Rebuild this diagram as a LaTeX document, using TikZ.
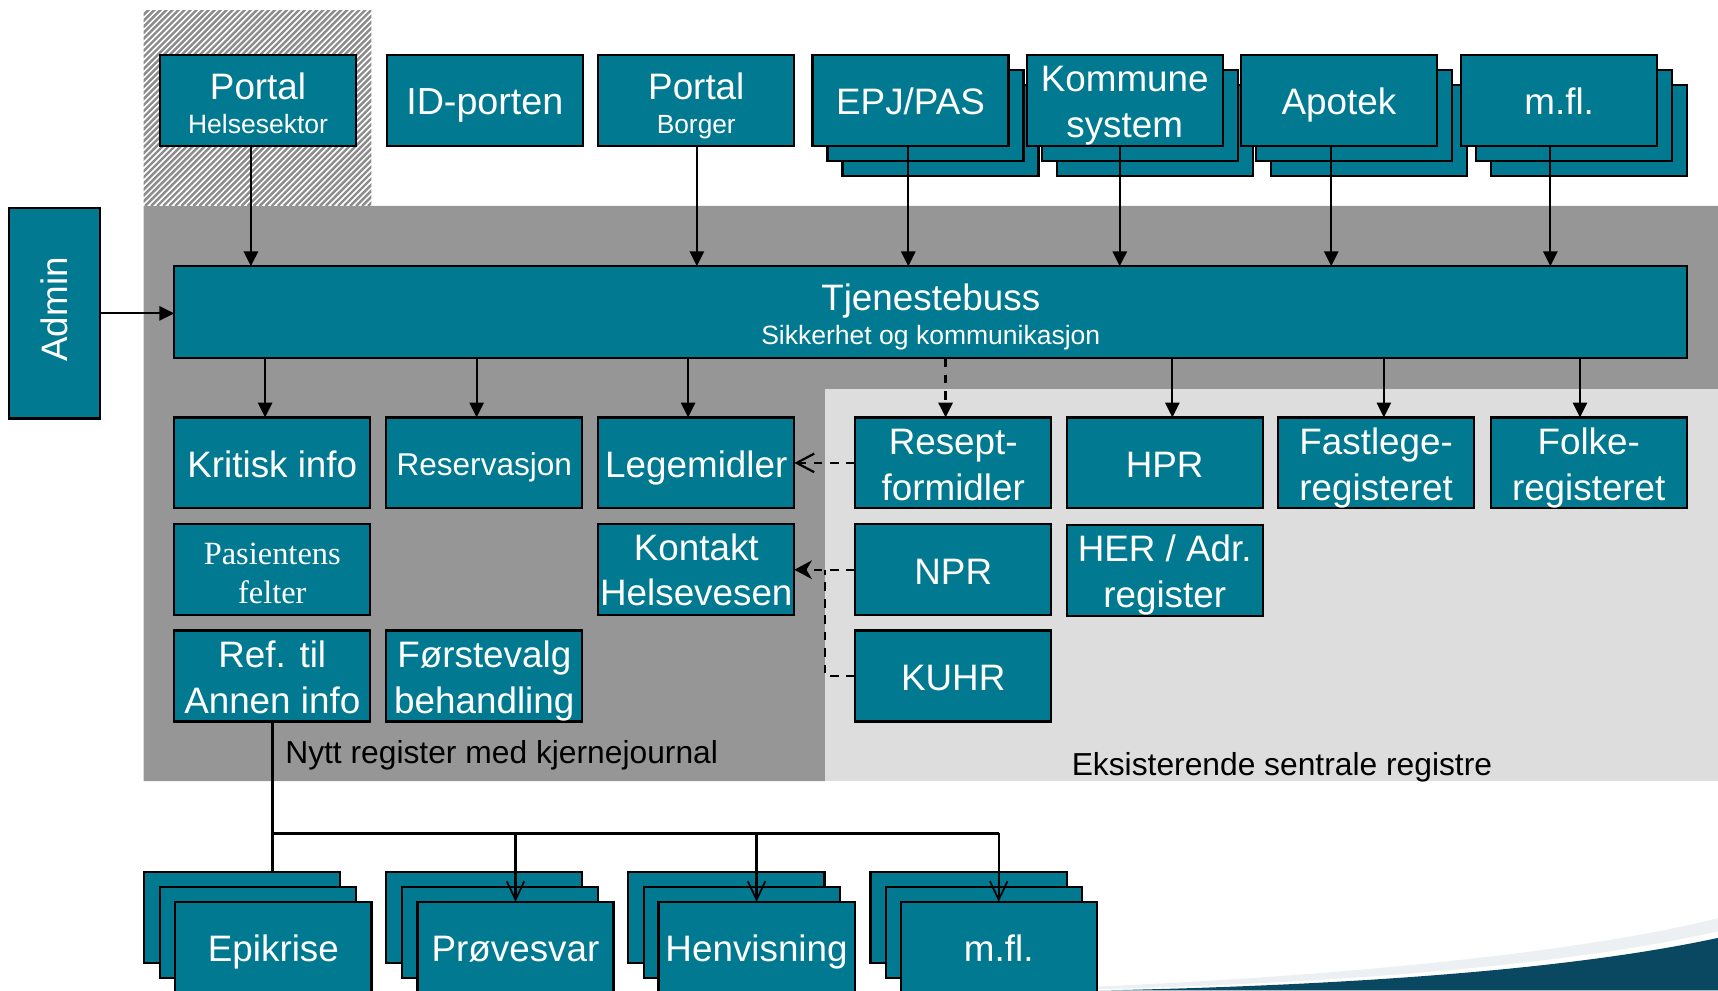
\documentclass[tikz,border=0pt]{standalone}
\usepackage{fontspec}
\setmainfont{Liberation Sans}
\newfontfamily\serifx{Liberation Serif}
\usetikzlibrary{arrows.meta,calc}
\definecolor{boxteal}{RGB}{0,121,145}
\definecolor{darkgr}{RGB}{150,150,150}
\definecolor{lightgr}{RGB}{221,221,221}
\definecolor{swooshc}{RGB}{10,72,98}
\definecolor{hatchc}{RGB}{140,140,140}
\definecolor{glowc}{RGB}{236,240,242}
\newcommand\tstrut{\rule[-0.212em]{0pt}{1.117em}}
\newcommand\tstrutA{\rule[-0.212em]{0pt}{\dimexpr1.117em+1.5pt\relax}}
\begin{document}
\begin{tikzpicture}[x=0.5pt,y=-0.5pt,
  box/.style={draw=black,line width=1pt,fill=boxteal,text=white,inner sep=0pt,outer sep=0pt,
    minimum width=89.5pt,minimum height=41.5pt,align=center,font=\fontsize{16.8}{20.8}\selectfont,
    execute at begin node=\tstrutA,execute at end node=\tstrut},
  arr/.style={line width=1pt,-{Triangle[length=6.8pt,width=6.5pt]}},
  dline/.style={line width=1pt,dash pattern=on 4pt off 3.5pt},
  dtarr/.style={dline,-{Triangle[length=6.8pt,width=6.5pt]}},
  darr/.style={dline,-{Straight Barb[length=8pt,width=8.5pt,line width=1pt]}},
  dsarr/.style={dline,-{Stealth[length=8pt,width=8.5pt,inset=2.5pt]}},
  tline/.style={line width=1.2pt},
  tarr/.style={line width=1pt,-{Straight Barb[length=8.4pt,width=8pt,line width=0.8pt]}},
  lbl/.style={text=black,inner sep=0pt,font=\fontsize{14.5}{17}\selectfont}
]
\useasboundingbox (0,0) rectangle (1568,904);
\clip (0,0) rectangle (1568,904);

% background regions
\fill[darkgr] (131,188) -- (1568,188) -- (1568,355) -- (753,355) -- (753,713) -- (131,713) -- cycle;
\fill[lightgr] (753,355) rectangle (1568,713);

% hatched area
\begin{scope}
  \clip (131,10) rectangle (339,188);
  \fill[white] (131,10) rectangle (339,188);
  \foreach \i in {0,...,76} {
    \draw[hatchc,line width=1.1pt] (\i*5.5-60,188) -- ++(190,-190);
  }
\end{scope}

% swoosh
\fill[glowc] (900,904) .. controls (1150,897) and (1420,875) .. (1568,838) -- (1568,904) -- cycle;
\fill[white] (960,904) .. controls (1190,899) and (1420,884) .. (1568,850) -- (1568,904) -- cycle;
\fill[swooshc] (1004,904) .. controls (1200,900) and (1420,888) .. (1568,856) -- (1568,904) -- cycle;

% top row
\node[box,font=\fontsize{16.8}{15.5}\selectfont] (ph) at (235.5,91.5) {\rule{0pt}{18.3pt}Portal\\\fontsize{12.1}{15.5}\selectfont Helsesektor};
\node[box,font=\fontsize{17.2}{20.8}\selectfont] (idp) at (442.5,91.5) {ID-porten};
\node[box,font=\fontsize{16.8}{15.5}\selectfont] (pb) at (635.5,91.5) {\rule{0pt}{18.3pt}Portal\\\fontsize{12}{15.5}\selectfont Borger};

\node[box] (epjc) at (858.4,118.9) {};
\node[box] (epjb) at (844.7,105.2) {};
\node[box] (epj) at (831,91.5) {EPJ/PAS};

\node[box] (komc) at (1053.9,118.9) {};
\node[box] (komb) at (1040.2,105.2) {};
\node[box] (kom) at (1026.5,91.5) {\tstrutA Kommune\\system};

\node[box] (apoc) at (1249.4,118.9) {};
\node[box] (apob) at (1235.7,105.2) {};
\node[box] (apo) at (1222,91.5) {Apotek};

\node[box] (mflc) at (1450.4,118.9) {};
\node[box] (mflb) at (1436.7,105.2) {};
\node[box] (mfl) at (1423,91.5) {m.fl.};

% admin and bus
\node[box,minimum width=41.5pt,minimum height=96pt,execute at begin node={},execute at end node={}] (ad) at (49.5,286) {\rotatebox{90}{Admin}};
\node[box,minimum width=690.5pt,minimum height=42pt,execute at begin node=\tstrut,font=\fontsize{16.8}{15.4}\selectfont] (tb) at (849.5,285)
  {\rule{0pt}{17.2pt}Tjenestebuss\\\fontsize{12.1}{15.4}\selectfont Sikkerhet og kommunikasjon};

% row 1
\node[box] (ki) at (248.5,422.5) {Kritisk info};
\node[box,font=\fontsize{14.4}{17}\selectfont] (res) at (442,422.5) {Reservasjon};
\node[box] (leg) at (635.5,422.5) {Legemidler};
\node[box] (rf) at (870,422.5) {\tstrutA Resept-\\formidler};
\node[box] (hpr) at (1063,422.5) {HPR};
\node[box] (fl) at (1256,422.5) {\tstrutA Fastlege-\\registeret};
\node[box] (fo) at (1450,422.5) {\tstrutA Folke-\\registeret};

% row 2
\node[box,font=\serifx\fontsize{14.8}{17.8}\selectfont] (pf) at (248.5,520) {\rule{0pt}{15.8pt}Pasientens\\felter};
\node[box] (kh) at (635.5,520) {\rule{0pt}{15.8pt}Kontakt\\Helsevesen};
\node[box] (npr) at (870,520) {NPR};
\node[box] (her) at (1063,520.5) {\tstrutA HER / Adr.\\register};

% row 3
\node[box] (ref) at (248.5,617) {\tstrutA Ref. til\\Annen info};
\node[box] (fv) at (442,617) {\tstrutA Førstevalg\\behandling};
\node[box] (kuhr) at (870,617) {KUHR};

% labels
\node[lbl,anchor=west] (nyt) at (260,689) {Nytt register med kjernejournal};
\node[lbl] (eks) at (1170,700) {Eksisterende sentrale registre};

% bottom stacks
\node[box] (epc) at (221,837.5) {};
\node[box] (epb) at (235.5,850.75) {};
\node[box] (ep) at (249.5,864.5) {Epikrise};

\node[box] (pvc) at (442,837.5) {};
\node[box] (pvb) at (456.5,850.75) {};
\node[box] (pv) at (470.5,864.5) {Prøvesvar};

\node[box] (hvc) at (663,837.5) {};
\node[box] (hvb) at (677.5,850.75) {};
\node[box] (hv) at (690.5,864.5) {Henvisning};

\node[box] (mfc) at (884,837.5) {};
\node[box] (mfb) at (898,850.75) {};
\node[box] (mf) at (911.5,864.5) {m.fl.};

% arrows into bus
\draw[arr] ($(ph.south)+(-6.5,0)$) -- ($(tb.north -| ph.south)+(-6.5,0)$);
\draw[arr] ($(pb.south)+(0.5,0)$) -- ($(tb.north -| pb.south)+(0.5,0)$);
\draw[arr] ($(epj.south)+(-2,0)$) -- ($(tb.north -| epj.south)+(-2,0)$);
\draw[arr] ($(kom.south)+(-4.5,0)$) -- ($(tb.north -| kom.south)+(-4.5,0)$);
\draw[arr] ($(apo.south)+(-7,0)$) -- ($(tb.north -| apo.south)+(-7,0)$);
\draw[arr] ($(mfl.south)+(-8,0)$) -- ($(tb.north -| mfl.south)+(-8,0)$);
\draw[arr] (ad.east) -- (ad.east -| tb.west);

% arrows out of bus
\draw[arr] ($(tb.south -| ki.north)+(-6.5,0)$) -- ($(ki.north)+(-6.5,0)$);
\draw[arr] ($(tb.south -| res.north)+(-7,0)$) -- ($(res.north)+(-7,0)$);
\draw[arr] ($(tb.south -| leg.north)+(-7.5,0)$) -- ($(leg.north)+(-7.5,0)$);
\draw[dtarr] ($(tb.south -| rf.north)+(-7,0)$) -- ($(rf.north)+(-7,0)$);
\draw[arr] ($(tb.south -| hpr.north)+(7,0)$) -- ($(hpr.north)+(7,0)$);
\draw[arr] ($(tb.south -| fl.north)+(7,0)$) -- ($(fl.north)+(7,0)$);
\draw[arr] ($(tb.south -| fo.north)+(-8,0)$) -- ($(fo.north)+(-8,0)$);

% dashed links
\coordinate (vx) at (753,0);
\draw[darr] (rf.west) -- (leg.east);
\draw[dsarr] (npr.west) -- (kh.east);
\draw[dline] (kuhr.west) -- (kuhr.west -| vx) -- (kh.east -| vx);

% tree to documents
\coordinate (j0) at (249,760.5);
\draw[tline] (ref.south) -- (ref.south |- j0) -- (j0 -| mf.north);
\draw[tline] (ref.south |- j0) -- (ref.south |- epc.north);
\draw[tarr] (j0 -| pv.north) -- (pv.north);
\draw[tarr] (j0 -| hv.north) -- (hv.north);
\draw[tarr] (j0 -| mf.north) -- (mf.north);
\end{tikzpicture}
\end{document}
